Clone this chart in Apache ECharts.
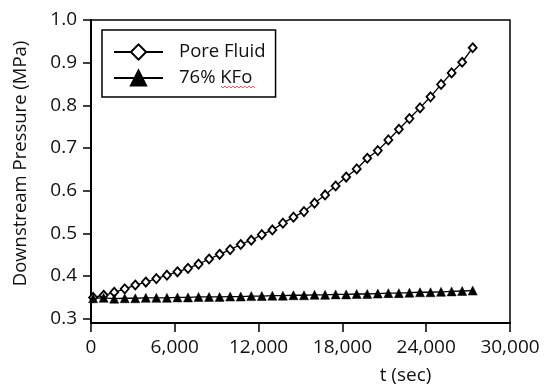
<!DOCTYPE html>
<html lang="en">
<head>
    <meta charset="UTF-8">
    <script src="https://cdn.jsdelivr.net/npm/echarts@6/dist/echarts.min.js"></script>
    <style>
        *{
            margin: 0;
            padding: 0;
        }
        #chart {
            width: 547px;
            height: 392px;
            background: #fff;
        }
    </style>
</head>
<body>
<div id="chart"></div>
<script>
    // time of each reading (sec)
    var times = [150, 905, 1660, 2415, 3170, 3925, 4680, 5435, 6190, 6945,
        7700, 8455, 9210, 9965, 10720, 11475, 12230, 12985, 13740, 14495,
        15250, 16005, 16760, 17515, 18270, 19025, 19780, 20535, 21290, 22045,
        22800, 23555, 24310, 25065, 25820, 26575, 27330];

    // downstream pressure (MPa)
    var poreFluid = [0.350, 0.355, 0.362, 0.370, 0.379, 0.386, 0.394, 0.402, 0.410, 0.418,
        0.428, 0.440, 0.451, 0.462, 0.474, 0.484, 0.497, 0.508, 0.524, 0.538,
        0.551, 0.571, 0.590, 0.611, 0.632, 0.651, 0.676, 0.694, 0.719, 0.744,
        0.769, 0.794, 0.820, 0.849, 0.876, 0.901, 0.935];

    var kfo76 = [0.348, 0.349, 0.347, 0.348, 0.348, 0.349, 0.349, 0.349, 0.350, 0.350,
        0.351, 0.351, 0.351, 0.352, 0.352, 0.353, 0.353, 0.354, 0.354, 0.355,
        0.355, 0.356, 0.356, 0.357, 0.357, 0.358, 0.358, 0.359, 0.360, 0.360,
        0.361, 0.362, 0.362, 0.363, 0.364, 0.365, 0.366];

    var seriesNames = ['Pore Fluid', '76% KFo'];
    var yTicks = [0.3, 0.4, 0.5, 0.6, 0.7, 0.8, 0.9, 1.0];
    var xTicks = [0, 6000, 12000, 18000, 24000, 30000];

    function pairs(xs, ys) {
        var out = [];
        for (var i = 0; i < xs.length; i++) {
            out.push([xs[i], ys[i]]);
        }
        return out;
    }

    var font = '"Open Sans", sans-serif';
    var myChart = echarts.init(document.getElementById('chart'));

    var option = {
        animation: false,
        backgroundColor: '#fff',
        textStyle: {fontFamily: font, color: '#111'},
        grid: {
            left: 91, right: 37, top: 20, bottom: 69,
            show: true,
            borderColor: '#000',
            borderWidth: 1.5
        },
        legend: {
            data: seriesNames,
            orient: 'vertical',
            left: 102,
            top: 30,
            padding: [12, 10, 9, 11],
            itemGap: 6,
            itemWidth: 49,
            itemHeight: 19,
            borderColor: '#000',
            borderWidth: 1.5,
            textStyle: {
                fontFamily: font,
                fontSize: 18.5,
                color: '#111',
                lineHeight: 20,
                padding: [0, 0, 0, 11]
            }
        },
        xAxis: {
            type: 'value',
            min: xTicks[0],
            max: xTicks[xTicks.length - 1],
            interval: 6000,
            name: 't (sec)',
            nameLocation: 'middle',
            nameGap: 43,
            nameTextStyle: {fontFamily: font, fontSize: 19, color: '#111', padding: [0, 0, 0, 210]},
            axisLine: {lineStyle: {color: '#000', width: 2}},
            axisTick: {length: 9, lineStyle: {color: '#000', width: 1.5}},
            axisLabel: {
                margin: 15,
                fontFamily: font,
                fontSize: 19,
                color: '#111',
                formatter: function (v) {
                    return v.toLocaleString('en-US');
                }
            },
            splitLine: {show: false}
        },
        yAxis: {
            type: 'value',
            min: 0.29,
            max: 1.0,
            name: 'Downstream Pressure (MPa)',
            nameLocation: 'middle',
            nameGap: 61,
            nameTextStyle: {fontFamily: font, fontSize: 18.5, color: '#111', padding: [0, 0, 0, 16]},
            axisLine: {lineStyle: {color: '#000', width: 2}},
            axisTick: {length: 8, customValues: yTicks, lineStyle: {color: '#000', width: 1.5}},
            axisLabel: {
                margin: 14,
                fontFamily: font,
                fontSize: 19,
                color: '#111',
                customValues: yTicks,
                formatter: function (v) {
                    return v.toFixed(1);
                }
            },
            splitLine: {show: false}
        },
        series: [
            {
                name: seriesNames[0],
                type: 'line',
                data: pairs(times, poreFluid),
                symbol: 'diamond',
                symbolSize: [8, 9],
                lineStyle: {color: '#000', width: 1.3},
                itemStyle: {color: '#fff', borderColor: '#000', borderWidth: 1.8}
            },
            {
                name: seriesNames[1],
                type: 'line',
                data: pairs(times, kfo76),
                symbol: 'triangle',
                symbolSize: [9, 9],
                lineStyle: {color: '#000', width: 1.3},
                itemStyle: {color: '#000', borderColor: '#000', borderWidth: 0.5}
            }
        ],
        graphic: [
            {
                // spell-check squiggle under "KFo"
                type: 'polyline',
                shape: {points: [[221, 86], [223, 88], [225, 86], [227, 88], [229, 86], [231, 88], [233, 86],
                    [235, 88], [237, 86], [239, 88], [241, 86], [243, 88], [245, 86], [247, 88], [249, 86],
                    [251, 88], [253, 86], [255, 88]]},
                style: {stroke: '#e33', lineWidth: 0.8, fill: null},
                z: 100
            }
        ]
    };

    myChart.setOption(option);
</script>
</body>
</html>
